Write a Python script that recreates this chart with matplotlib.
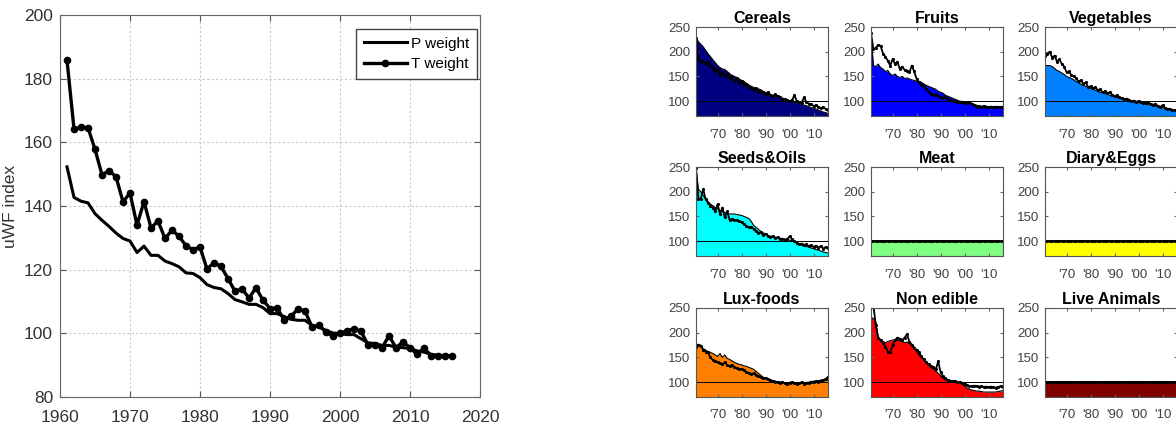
import numpy as np
import matplotlib
matplotlib.use("Agg")
import matplotlib.pyplot as plt

plt.rcParams["font.family"] = ["Liberation Sans", "DejaVu Sans"]

years = list(range(1961, 2017))

# left panel: overall uWF index
p_weight = [152.3, 142.7, 141.5, 141.0, 137.6, 135.5, 133.6, 131.5, 129.8, 129.0,
            125.4, 127.4, 124.5, 124.5, 122.7, 121.9, 120.9, 119.0, 118.8, 117.5,
            115.3, 114.4, 114.0, 112.5, 110.6, 109.9, 109.1, 109.1, 108.1, 106.2,
            106.2, 105.3, 104.4, 104.1, 104.1, 102.5, 102.0, 100.9, 100.1, 99.9,
            99.6, 99.6, 98.3, 97.0, 96.8, 96.2, 96.2, 95.7, 95.5, 95.2,
            94.5, 94.1, 93.4, 93.1, 93.0, 92.8]
t_weight = [185.8, 164.2, 164.7, 164.6, 157.8, 149.8, 151.1, 149.2, 141.3, 144.1,
            134.0, 141.4, 133.1, 135.3, 129.8, 132.4, 130.5, 127.5, 126.3, 127.1,
            120.2, 122.2, 121.0, 117.2, 113.2, 114.0, 111.1, 114.3, 110.4, 107.8,
            108.0, 104.3, 105.3, 107.7, 107.0, 102.0, 102.5, 100.4, 99.1, 100.1,
            100.7, 101.5, 100.6, 96.4, 96.4, 95.5, 99.2, 95.5, 97.3, 95.5,
            93.4, 95.4, 93.0, 93.0, 93.0, 92.8]

# small multiples
groups = ["Cereals", "Fruits", "Vegetables",
          "Seeds&Oils", "Meat", "Diary&Eggs",
          "Lux-foods", "Non edible", "Live Animals"]
group_colors = ["#000080", "#0000ff", "#0080ff",
                "#00ffff", "#80ff80", "#ffff00",
                "#ff8000", "#ff0000", "#800000"]

cereals_p = [230, 220, 215, 210, 203, 196, 190, 184, 178, 172, 168, 165, 164, 160, 156, 152,
             150, 148, 145, 142, 140, 136, 133, 130, 128, 126, 125, 123, 120, 118, 116, 114,
             112, 111, 110, 108, 106, 104, 103, 101, 100, 99, 97, 96, 94, 92, 91, 89, 87, 86,
             84, 82, 80, 78, 77, 75]
cereals_t = [228, 185, 180, 182, 176, 180, 172, 168, 160, 164, 152, 158, 150, 155, 146, 150,
             140, 146, 136, 140, 132, 135, 128, 126, 122, 126, 118, 120, 116, 115, 118, 112,
             110, 114, 110, 108, 105, 104, 102, 100, 102, 112, 100, 98, 96, 108, 98, 95, 94, 90,
             92, 88, 86, 88, 84, 82]
fruits_p = [235, 172, 170, 175, 168, 165, 160, 162, 155, 152, 155, 150, 148, 150, 146, 147,
            145, 143, 142, 140, 140, 138, 135, 132, 130, 128, 126, 124, 120, 118, 116, 112,
            110, 108, 106, 104, 102, 100, 99, 98, 97, 96, 95, 93, 92, 90, 89, 89, 88, 88,
            88, 88, 88, 88, 88, 88]
fruits_t = [238, 205, 208, 214, 212, 196, 190, 182, 172, 185, 175, 180, 165, 170, 163, 162,
            158, 172, 160, 145, 138, 132, 130, 125, 118, 115, 112, 114, 110, 108, 106, 108,
            104, 102, 101, 100, 99, 98, 99, 97, 96, 98, 95, 92, 88, 90, 89, 90, 89, 88,
            89, 88, 89, 88, 88, 89]
veg_p = [172, 172, 172, 170, 166, 162, 160, 157, 154, 150, 148, 146, 143, 140, 137, 134,
         132, 130, 128, 126, 124, 122, 120, 118, 117, 116, 114, 112, 110, 109, 108, 106,
         105, 103, 102, 101, 100, 99, 98, 97, 96, 95, 94, 93, 92, 91, 90, 89, 88, 87,
         86, 85, 84, 83, 82, 81]
veg_t = [192, 196, 200, 188, 192, 180, 185, 175, 170, 158, 160, 152, 150, 146, 140, 142,
         135, 138, 128, 130, 126, 128, 122, 124, 118, 120, 116, 118, 113, 110, 112, 108,
         106, 104, 105, 102, 100, 101, 99, 100, 98, 97, 96, 98, 94, 92, 95, 90, 88, 92,
         86, 85, 84, 82, 82, 80]
seeds_p = [248, 205, 200, 192, 186, 180, 175, 172, 168, 166, 162, 160, 158, 156, 155, 155,
           155, 154, 153, 152, 150, 148, 146, 140, 132, 128, 124, 120, 117, 114, 112, 110,
           109, 108, 107, 106, 105, 104, 103, 102, 101, 99, 97, 94, 92, 90, 89, 88, 86, 85,
           83, 82, 80, 78, 77, 76]
seeds_t = [248, 185, 186, 205, 185, 178, 172, 168, 160, 175, 155, 168, 148, 160, 143, 145,
           143, 142, 140, 138, 135, 130, 128, 128, 125, 120, 117, 118, 112, 115, 110, 108,
           110, 106, 108, 104, 105, 103, 104, 110, 104, 100, 96, 94, 95, 92, 94, 90, 92, 88,
           91, 87, 90, 85, 88, 86]
flat_100 = [100] * 56
lux_p = [175, 176, 172, 168, 165, 162, 160, 158, 155, 152, 158, 150, 155, 148, 146, 143,
         140, 138, 136, 135, 133, 132, 130, 128, 126, 122, 118, 114, 110, 108, 106, 104,
         103, 102, 101, 100, 100, 99, 98, 98, 99, 98, 97, 99, 98, 97, 99, 100, 101, 102,
         102, 103, 104, 105, 107, 111]
lux_t = [172, 176, 174, 165, 162, 160, 150, 145, 142, 140, 138, 136, 140, 134, 132, 135,
         130, 128, 126, 127, 124, 120, 118, 116, 118, 114, 112, 110, 108, 108, 106, 104,
         102, 101, 100, 99, 100, 98, 97, 99, 100, 98, 97, 98, 100, 97, 99, 98, 101, 100,
         102, 101, 103, 104, 106, 110]
nonedible_p = [232, 228, 222, 190, 185, 182, 180, 182, 184, 185, 186, 185, 184, 182, 180, 181,
               179, 174, 168, 162, 155, 150, 145, 140, 134, 130, 126, 122, 118, 113, 108, 104,
               103, 102, 101, 100, 100, 98, 96, 92, 88, 86, 84, 83, 82, 82, 81, 80, 80, 80,
               80, 80, 80, 81, 82, 83]
nonedible_t = [300, 255, 215, 190, 185, 180, 172, 162, 160, 175, 185, 190, 188, 185, 190, 197,
               182, 176, 170, 165, 160, 152, 146, 140, 136, 132, 130, 126, 142, 120, 112, 108,
               104, 103, 102, 102, 100, 100, 98, 96, 94, 92, 92, 93, 92, 91, 92, 90, 91, 90,
               91, 90, 89, 90, 92, 91]

series_p = [cereals_p, fruits_p, veg_p, seeds_p, flat_100, flat_100, lux_p, nonedible_p, flat_100]
series_t = [cereals_t, fruits_t, veg_t, seeds_t, flat_100, flat_100, lux_t, nonedible_t, flat_100]

W, H = 1176, 437
fig = plt.figure(figsize=(W / 100, H / 100), dpi=100)


def px_axes(x0, y0, w, h):
    return fig.add_axes([x0 / W, 1 - (y0 + h) / H, w / W, h / H])


# ---- main chart
ax = px_axes(60, 15, 420, 382)
ax.plot(years, p_weight, color="black", lw=2.2, label="P weight")
ax.plot(years, t_weight, color="black", lw=2.4, marker="o", ms=4.5, label="T weight")
ax.set_xlim(1960, 2020)
ax.set_ylim(80, 200)
ax.set_xticks(range(1960, 2021, 10))
ax.set_yticks(range(80, 201, 20))
ax.grid(True, color="#c8c8c8", ls=(0, (2, 2)), lw=0.8)
ax.tick_params(direction="in", top=True, right=True, length=4, labelsize=12.5,
               labelcolor="#333333", color="#555555", pad=5)
ax.tick_params(axis="x", pad=9)
for s in ax.spines.values():
    s.set_color("#666666")
ax.set_ylabel("uWF index", fontsize=12.5, color="#333333")
ax.yaxis.set_label_coords(-0.1, 0.5)
leg = ax.legend(loc="upper right", fontsize=11, fancybox=False, framealpha=1,
                edgecolor="#444444", handlelength=2.8, borderpad=0.5,
                borderaxespad=0, handletextpad=0.3, labelspacing=0.4,
                bbox_to_anchor=(0.993, 0.963))

# ---- small multiples
col_x = [696, 871, 1045]
row_y = [27, 167, 308]
for i, name in enumerate(groups):
    r, c = divmod(i, 3)
    a = px_axes(col_x[c], row_y[r], 132, 89)
    a.fill_between(years, series_p[i], 0, color=group_colors[i], lw=0)
    a.plot(years, series_p[i], color="black", lw=0.8)
    a.plot(years, series_t[i], color="black", lw=1.3, marker=".", ms=2.5)
    a.axhline(100, color="black", lw=0.7)
    a.set_xlim(1961, 2016)
    a.set_ylim(70, 250)
    a.set_yticks([100, 150, 200, 250])
    a.set_xticks([1970, 1980, 1990, 2000, 2010])
    a.set_xticklabels(["'70", "'80", "'90", "'00", "'10"])
    a.tick_params(direction="in", top=True, right=True, length=2, labelsize=9.5,
                  labelcolor="#404040", color="#666666", pad=4)
    a.tick_params(axis="x", pad=9)
    for s in a.spines.values():
        s.set_color("#555555")
        s.set_linewidth(0.8)
    a.set_title(name, fontsize=11.5, fontweight="bold", pad=3)

fig.savefig("out.png", dpi=100)
